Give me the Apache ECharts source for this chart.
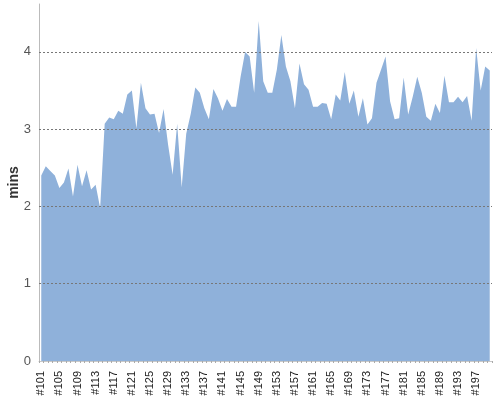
<!DOCTYPE html>
<html>
<head>
<meta charset="utf-8">
<script src="https://cdn.jsdelivr.net/npm/echarts@6/dist/echarts.min.js"></script>
<style>html,body{margin:0;padding:0;background:#fff}#c{width:500px;height:400px}</style>
</head>
<body>
<div id="c"></div>
<script>
const categories = [];
for (let n = 101; n <= 200; n++) categories.push('#' + n);

const minsValues = [
  2.40, 2.52, 2.46, 2.40, 2.24, 2.31, 2.49, 2.13, 2.54, 2.26,
  2.47, 2.22, 2.28, 1.98, 3.07, 3.15, 3.13, 3.24, 3.20, 3.45,
  3.50, 3.01, 3.60, 3.27, 3.19, 3.20, 2.95, 3.26, 2.80, 2.41,
  3.07, 2.25, 2.94, 3.20, 3.54, 3.47, 3.27, 3.13, 3.52, 3.40,
  3.24, 3.39, 3.29, 3.29, 3.68, 4.00, 3.94, 3.47, 4.40, 3.62,
  3.47, 3.47, 3.77, 4.22, 3.81, 3.62, 3.27, 3.85, 3.58, 3.51,
  3.29, 3.29, 3.34, 3.33, 3.13, 3.45, 3.37, 3.74, 3.33, 3.50,
  3.16, 3.40, 3.06, 3.14, 3.60, 3.77, 3.94, 3.36, 3.13, 3.14,
  3.67, 3.19, 3.42, 3.68, 3.47, 3.16, 3.11, 3.33, 3.21, 3.69,
  3.35, 3.35, 3.42, 3.35, 3.43, 3.11, 4.05, 3.50, 3.81, 3.76
];

const gridValues = [1, 2, 3, 4];
const yMax = 4.62;

const chart = echarts.init(document.getElementById('c'), null, {renderer: 'canvas'});
chart.setOption({
  animation: false,
  textStyle: {fontFamily: 'Liberation Sans, Arial, sans-serif'},
  grid: {left: 39, right: 8, top: 4, bottom: 39, containLabel: false, outerBoundsMode: 'none'},
  xAxis: {
    type: 'category',
    data: categories,
    boundaryGap: true,
    offset: 4,
    axisLine: {show: true, lineStyle: {color: '#c8c8c8', width: 1}},
    axisTick: {show: true, interval: 0, length: 2, lineStyle: {color: '#aaa'}},
    axisLabel: {interval: 3, rotate: 90, fontSize: 11, color: '#222', margin: 6},
    splitLine: {show: false}
  },
  yAxis: {
    type: 'value',
    min: 0,
    max: yMax,
    interval: 1,
    name: 'mins',
    nameLocation: 'middle',
    nameRotate: 90,
    nameGap: 18,
    nameMoveOverlap: false,
    nameTextStyle: {fontSize: 14, fontWeight: 'bold', color: '#333'},
    axisLine: {show: true, lineStyle: {color: '#bbb', width: 1}},
    axisTick: {show: false},
    axisLabel: {
      fontSize: 13, color: '#555', margin: 8, showMaxLabel: false,
      formatter: v => (Number.isInteger(v) ? String(v) : '')
    },
    splitLine: {show: false}
  },
  series: [{
    type: 'line',
    data: minsValues,
    showSymbol: false,
    symbol: 'none',
    lineStyle: {width: 0, color: '#8fb1da'},
    areaStyle: {color: '#8fb1da', opacity: 1},
    itemStyle: {color: '#8fb1da'},
    markLine: {
      silent: true,
      symbol: ['none', 'none'],
      label: {show: false},
      lineStyle: {type: [2, 2], color: '#777', width: 1},
      data: gridValues.map(v => ({yAxis: v}))
    }
  }]
});
</script>
</body>
</html>
